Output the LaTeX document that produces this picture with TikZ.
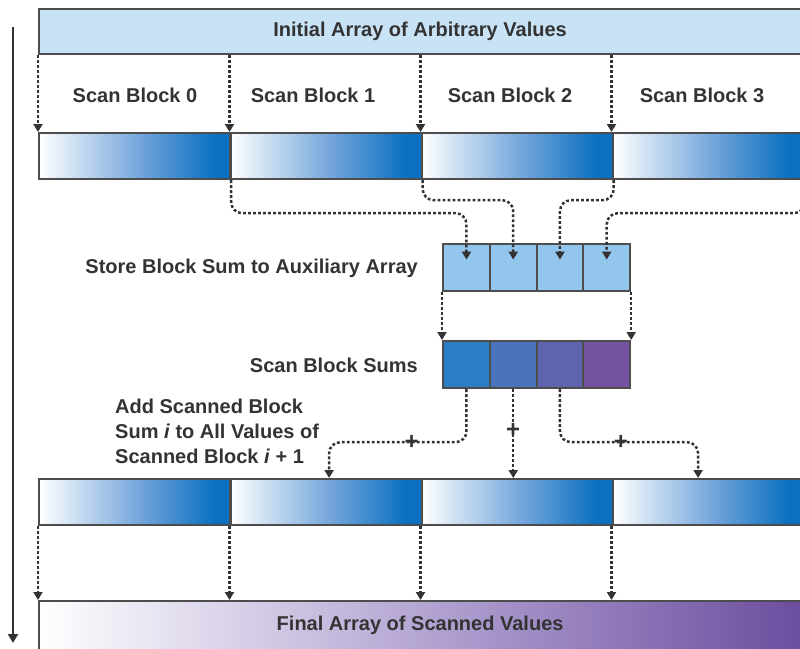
\documentclass[tikz,border=0pt]{standalone}
\usepackage{fontspec}
\setmainfont{Liberation Sans}
\usetikzlibrary{arrows.meta}
\definecolor{txt}{HTML}{333333}
\definecolor{edge}{HTML}{4D4D4D}
\definecolor{topfill}{HTML}{C9E3F6}
\definecolor{auxfill}{HTML}{93C6EC}
\definecolor{dblue}{HTML}{0A70BF}
\definecolor{mblue}{HTML}{6FA3DA}
\definecolor{sA}{HTML}{2B7DC6}
\definecolor{sB}{HTML}{4973BB}
\definecolor{sC}{HTML}{5F64AE}
\definecolor{sD}{HTML}{7452A2}
\definecolor{fpurple}{HTML}{6A4B9E}
\definecolor{fmid}{HTML}{B3A4D2}
\pgfdeclarehorizontalshading{blockshade}{100bp}{color(0bp)=(white); color(25bp)=(white); color(52bp)=(mblue); color(71bp)=(dblue); color(100bp)=(dblue)}
\pgfdeclarehorizontalshading{finalshade}{100bp}{color(0bp)=(white); color(25bp)=(white); color(50bp)=(fmid); color(75bp)=(fpurple); color(100bp)=(fpurple)}
\tikzset{
  lbl/.style={font=\bfseries\fontsize{20}{25}\selectfont, text=txt, inner sep=0pt},
  bar/.style={draw=edge, line width=2.2pt, inner sep=0pt, anchor=north west},
  seg/.style={bar, shading=blockshade, minimum width=191pt, minimum height=46pt},
  cell/.style={draw=edge, line width=2.2pt, minimum width=46.75pt, minimum height=47pt, inner sep=0pt, anchor=north west},
  flow/.style={draw=txt, line width=2.5pt, dash pattern=on 2.8pt off 2.2pt, rounded corners=11pt, -{Triangle[width=9pt,length=8pt]}},
  plus/.style={lbl, font=\bfseries\fontsize{24}{26}\selectfont},
}
\begin{document}
\begin{tikzpicture}[x=1pt,y=-1pt]
\useasboundingbox (0,0) rectangle (800,648);
\clip (0,0) rectangle (800,648);

% time arrow
\coordinate (t0) at (13,27);
\coordinate (t1) at (13,643);
\draw[draw=txt, line width=2.2pt, -{Triangle[width=10pt,length=9pt]}] (t0) -- (t1);

% initial array
\node[bar, fill=topfill, minimum width=772pt, minimum height=45pt,
      label={[lbl, xshift=-5pt]center:Initial Array of Arbitrary Values}] (init) at (38,8) {};

% scan block labels
\node[lbl] (l0) at (135,95) {Scan Block 0};
\node[lbl] (l1) at (313,95) {Scan Block 1};
\node[lbl] (l2) at (510,95) {Scan Block 2};
\node[lbl] (l3) at (702,95) {Scan Block 3};

% first scanned bar
\node[seg] (a1) at (38,132) {};
\node[seg] (a2) at (229.5,132) {};
\node[seg] (a3) at (420.5,132) {};
\node[seg] (a4) at (611.5,132) {};

\foreach \s in {a1,a2,a3,a4}{
  \draw[flow] (\s.north west |- init.south) -- (\s.north west);
}
\draw[flow] (a4.north east |- init.south) -- (a4.north east);

% auxiliary array
\node[cell, fill=auxfill] (x1) at (442,243) {};
\node[cell, fill=auxfill] (x2) at (488.75,243) {};
\node[cell, fill=auxfill] (x3) at (535.5,243) {};
\node[cell, fill=auxfill] (x4) at (582.25,243) {};
\node[lbl, anchor=east] (storelbl) at (418,268) {Store Block Sum to Auxiliary Array};

\draw[flow] (a1.south east) -- ++(0,33) -| ([yshift=8pt]x1.center);
\draw[flow] (a2.south east) -- ++(0,20) -| ([yshift=8pt]x2.center);
\draw[flow] (a3.south east) -- ++(0,20) -| ([yshift=8pt]x3.center);
\draw[flow] (a4.south east) -- ++(0,33) -| ([yshift=8pt]x4.center);

% scanned block sums
\node[cell, fill=sA] (y1) at (442,340) {};
\node[cell, fill=sB] (y2) at (488.75,340) {};
\node[cell, fill=sC] (y3) at (535.5,340) {};
\node[cell, fill=sD] (y4) at (582.25,340) {};
\node[lbl, anchor=east] (sumslbl) at (418,365) {Scan Block Sums};

\draw[flow] (x1.south west) -- (y1.north west);
\draw[flow] (x4.south east) -- (y4.north east);

% second scanned bar
\node[seg] (b1) at (38,478) {};
\node[seg] (b2) at (229.5,478) {};
\node[seg] (b3) at (420.5,478) {};
\node[seg] (b4) at (611.5,478) {};

\node[lbl, anchor=west, align=left] (addlbl) at (115,431)
  {Add Scanned Block\\Sum \textit{i} to All Values of\\Scanned Block \textit{i} + 1};

\draw[flow] (y1.south) -- ++(0,53) -| node[plus, pos=0.2] {+} ([xshift=3pt]b2.north);
\draw[flow] (y2.south) -- node[plus, pos=0.47] {+} (y2.south |- b3.north);
\draw[flow] (y3.south) -- ++(0,53) -| node[plus, pos=0.22] {+} ([xshift=-10pt]b4.north);

% final array
\node[bar, shading=finalshade, minimum width=772pt, minimum height=50pt,
      label={[lbl, xshift=-5pt, yshift=1pt]center:Final Array of Scanned Values}] (final) at (38,600) {};

\foreach \s in {b1,b2,b3,b4}{
  \draw[flow] (\s.south west) -- (\s.south west |- final.north);
}
\draw[flow] (b4.south east) -- (b4.south east |- final.north);
\end{tikzpicture}
\end{document}
